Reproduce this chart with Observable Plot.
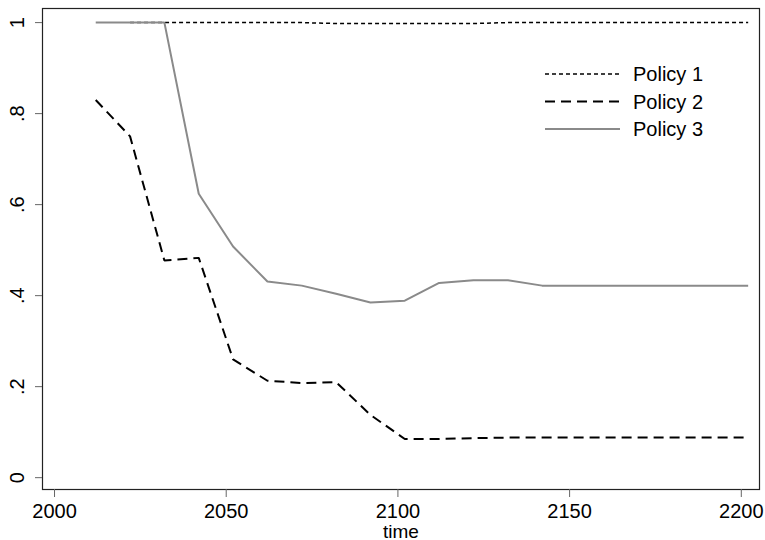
<!DOCTYPE html>
<html>
<head>
<meta charset="utf-8">
<script src="https://cdn.jsdelivr.net/npm/d3@7"></script>
<script src="https://cdn.jsdelivr.net/npm/@observablehq/plot@0.6"></script>
<style>
  html, body { margin: 0; padding: 0; background: #fff; }
  #chart svg { display: block; }
</style>
</head>
<body>
<div id="chart"></div>
<script>
const years = [2012, 2022, 2032, 2042, 2052, 2062, 2072, 2082, 2092, 2102,
               2112, 2122, 2132, 2142, 2152, 2162, 2172, 2182, 2192, 2202];
const policy1 = [null, 1, 1, 1, 1, 1, 1, 0.998, 0.998, 0.998,
                 0.998, 0.998, 1, 1, 1, 1, 1, 1, 1, 1];
const policy2 = [0.83, 0.75, 0.477, 0.483, 0.26, 0.213, 0.208, 0.21, 0.138, 0.085,
                 0.085, 0.087, 0.088, 0.088, 0.088, 0.088, 0.088, 0.088, 0.088, 0.088];
const policy3 = [1, 1, 1, 0.624, 0.508, 0.431, 0.422, 0.404, 0.385, 0.389,
                 0.428, 0.434, 0.434, 0.422, 0.422, 0.422, 0.422, 0.422, 0.422, 0.422];
const seriesNames = ["Policy 1", "Policy 2", "Policy 3"];
const xTicks = [2000, 2050, 2100, 2150, 2200];
const yTicks = [0, 0.2, 0.4, 0.6, 0.8, 1];

const styles = {
  "Policy 1": {stroke: "#000", strokeWidth: 1.5, dash: "4,3"},
  "Policy 2": {stroke: "#000", strokeWidth: 2, dash: "10,6"},
  "Policy 3": {stroke: "#8a8a8a", strokeWidth: 2, dash: null}
};

const allSeries = [policy1, policy2, policy3];
const rows = [];
seriesNames.forEach((name, i) => {
  years.forEach((yr, j) => {
    const v = allSeries[i][j];
    if (v != null) rows.push({series: name, time: yr, value: v});
  });
});

const fmt = d => d === 0 ? "0" : d === 1 ? "1" : String(d).replace(/^0\./, ".");
const font = "'Liberation Sans', Arial, sans-serif";
const FS = 20;

const lineMarks = seriesNames.map(name => Plot.line(rows.filter(r => r.series === name), {
  x: "time", y: "value",
  stroke: styles[name].stroke,
  strokeWidth: styles[name].strokeWidth,
  strokeDasharray: styles[name].dash,
  strokeLinejoin: "miter",
  strokeLinecap: "butt"
}));

const chart = Plot.plot({
  width: 765,
  height: 540,
  marginLeft: 42,
  marginRight: 6,
  marginTop: 8,
  marginBottom: 51,
  style: {fontFamily: font, fontSize: FS + "px", background: "#fff", color: "#000"},
  x: {domain: [1996.5, 2205.3]},
  y: {domain: [-0.026, 1.031]},
  marks: [
    ...lineMarks,
    Plot.frame({stroke: "#222", strokeWidth: 1.2}),
    Plot.axisX({ticks: xTicks, tickFormat: d => String(d), tickSize: 8, tickPadding: 6,
                fontSize: FS, stroke: "#666", label: null}),
    Plot.axisY({ticks: yTicks, tickFormat: fmt, tickSize: 7, tickPadding: 12,
                tickRotate: -90, textAnchor: "middle", fontSize: FS, stroke: "#666", label: null}),
    Plot.text(["time"], {frameAnchor: "bottom", lineAnchor: "bottom", dy: 48, fontSize: 19, fill: "#000"})
  ]
});

// Legend inside the plot region (top right)
const svg = d3.select(chart);
const lg = svg.append("g").attr("font-family", font).attr("font-size", FS).attr("text-anchor", "start");
seriesNames.forEach((name, i) => {
  const y = 74 + i * 27.5;
  const s = styles[name];
  lg.append("line").attr("x1", 545).attr("x2", 620).attr("y1", y).attr("y2", y)
    .attr("stroke", s.stroke).attr("stroke-width", s.strokeWidth)
    .attr("stroke-dasharray", s.dash);
  lg.append("text").attr("x", 633).attr("y", y).attr("dy", "0.35em").attr("fill", "#000").text(name);
});

document.getElementById("chart").appendChild(chart);
</script>
</body>
</html>
